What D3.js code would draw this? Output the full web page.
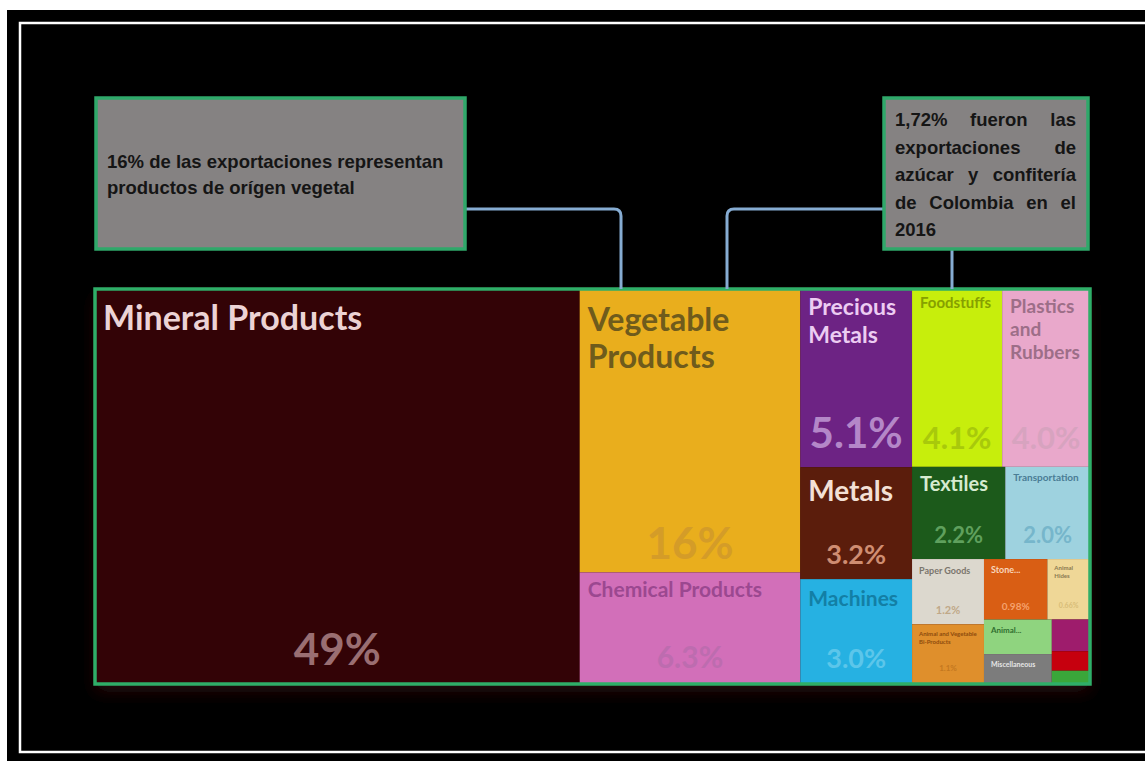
<!DOCTYPE html>
<html>
<head>
<meta charset="UTF-8">
<script src="https://cdn.jsdelivr.net/npm/d3@7"></script>
<style>
  body { margin: 0; background: #fff; }
  svg { display: block; }
</style>
</head>
<body>
<svg id="chart" width="1145" height="761"></svg>
<script>
// Colombia exports 2016, share by section (%)
const sections = ["Mineral Products", "Vegetable Products", "Chemical Products",
  "Precious Metals", "Metals", "Machines", "Foodstuffs", "Plastics and Rubbers",
  "Textiles", "Transportation", "Paper Goods", "Animal and Vegetable Bi-Products",
  "Stone And Glass", "Animal Hides", "Animal Products", "Miscellaneous",
  "Instruments", "Footwear and Headwear", "Wood Products"];
const shares = [49, 16, 6.3, 5.1, 3.2, 3.0, 4.1, 4.0, 2.2, 2.0, 1.2, 1.1, 0.98, 0.66, 0.6, 0.52, 0.31, 0.19, 0.13];
const sectionColors = ["#330306", "#e9ae1d", "#d26fb9", "#6d2384", "#5b1d0c", "#26b1e2",
  "#c7ee0c", "#e9a8cb", "#1c5a1b", "#9ed2df", "#dcd8ce", "#df8f2c", "#d95e14",
  "#efd797", "#8fd47f", "#7c7c7c", "#9e1c6c", "#c6000e", "#3aa63a"];

// how the blocks are stacked (x = side by side, y = on top of each other)
const arrangement = {dir: "x", children: [
  "Mineral Products",
  {dir: "y", children: ["Vegetable Products", "Chemical Products"]},
  {dir: "y", children: ["Precious Metals", "Metals", "Machines"]},
  {dir: "y", children: [
    {dir: "x", children: ["Foodstuffs", "Plastics and Rubbers"]},
    {dir: "x", children: ["Textiles", "Transportation"]},
    {dir: "x", children: [
      {dir: "y", children: ["Paper Goods", "Animal and Vegetable Bi-Products"]},
      {dir: "y", children: [
        {dir: "x", children: ["Stone And Glass", "Animal Hides"]},
        {dir: "x", children: [
          {dir: "y", children: ["Animal Products", "Miscellaneous"]},
          {dir: "y", children: ["Instruments", "Footwear and Headwear", "Wood Products"]}
        ]}
      ]}
    ]}
  ]}
]};

const note1 = ["16% de las exportaciones representan", "productos de orígen vegetal"];
const note2 = ["1,72% fueron las", "exportaciones de", "azúcar y confitería", "de Colombia en el", "2016"];

// label look per block: title size, line height, title offset, value size, colours
const labelStyle = {
  "Mineral Products": {ts: 34, lh: 35, ty: 41, vs: 44, vb: 19, tc: "#ecd3d5", vc: "#9a6e72"},
  "Vegetable Products": {ts: 32, lh: 37, ty: 42, vs: 44, vb: 13, tc: "#6f5b1c", vc: "#d49c28"},
  "Chemical Products": {ts: 21, ty: 25, vs: 30, vb: 16, tc: "#9b4890", vc: "#bd6caf"},
  "Precious Metals": {ts: 23, lh: 28, ty: 26, vs: 42, vb: 19, tc: "#ecccf2", vc: "#b487c8"},
  "Metals": {ts: 28, ty: 34, vs: 27, vb: 15, tc: "#f3e0d6", vc: "#cf8d72"},
  "Machines": {ts: 21, ty: 27, vs: 27, vb: 16, tc: "#137fa5", vc: "#5cc6ea"},
  "Foodstuffs": {ts: 15, ty: 19, vs: 31, vb: 18, tc: "#86a000", vc: "#a8c90b"},
  "Plastics and Rubbers": {ts: 19, lh: 23, ty: 24, vs: 31, vb: 18, tc: "#9d6e88", vc: "#d7a3bf"},
  "Textiles": {ts: 20, ty: 24, vs: 22, vb: 16, tc: "#d6ebd0", vc: "#5fa05d"},
  "Transportation": {ts: 10, ty: 14, vs: 22, vb: 16, tc: "#4a7d95", vc: "#76b6cb"},
  "Paper Goods": {ts: 9, ty: 15, vs: 11, vb: 10, tc: "#7a756c", vc: "#c0a888"},
  "Animal and Vegetable Bi-Products": {ts: 6, lh: 7.5, ty: 12, vs: 8, vb: 13, tc: "#8d4b0c", vc: "#c47820"},
  "Stone And Glass": {ts: 9, ty: 14, vs: 10, vb: 10, tc: "#f8d6bd", vc: "#f5a26e", lines: 1, maxW: 34},
  "Animal Hides": {ts: 6, lh: 8, ty: 11, vs: 7, vb: 12, tc: "#8a7850", vc: "#d8bd78", maxW: 24},
  "Animal Products": {ts: 8, ty: 13, vs: 0, tc: "#2f6f2f", lines: 1, maxW: 36},
  "Miscellaneous": {ts: 7, ty: 13, vs: 0, tc: "#e6e6e6"}
};

const W = 1145, H = 761;
const tm = {x: 95, y: 289, w: 995, h: 395};
const labelFont = "Lato, 'Open Sans', sans-serif";
const noteFont = "'Liberation Sans', Arial, sans-serif";

const svg = d3.select("#chart");

// frame
svg.append("rect").attr("width", W).attr("height", H).attr("fill", "#fff");
svg.append("rect").attr("x", 7).attr("y", 10).attr("width", W).attr("height", H).attr("fill", "#000");
svg.append("rect").attr("x", 20).attr("y", 23).attr("width", W).attr("height", 729)
  .attr("fill", "none").attr("stroke", "#fff").attr("stroke-width", 2.5);

const defs = svg.append("defs");
defs.append("filter").attr("id", "glow").attr("x", "-5%").attr("y", "-5%").attr("width", "110%").attr("height", "120%")
  .append("feDropShadow").attr("dx", 0).attr("dy", 8).attr("stdDeviation", 8)
  .attr("flood-color", "#3a0c14").attr("flood-opacity", 0.6);

// text measuring helper
const probe = svg.append("text").attr("x", -1000).attr("y", -1000);
function measure(str, size, family, weight) {
  probe.attr("font-family", family).attr("font-size", size).attr("font-weight", weight || "bold").text(str);
  return probe.node().getComputedTextLength();
}
function fitLines(name, size, maxW, maxLines) {
  const words = name.split(" ");
  let lines = [], cur = "";
  words.forEach(w => {
    const test = cur ? cur + " " + w : w;
    if (!cur || measure(test, size, labelFont) <= maxW) cur = test;
    else { lines.push(cur); cur = w; }
  });
  lines.push(cur);
  if (lines.length > maxLines) {
    lines = lines.slice(0, maxLines);
    let last = lines[maxLines - 1];
    while (last.length > 1 && measure(last + "...", size, labelFont) > maxW) last = last.slice(0, -1);
    lines[maxLines - 1] = last.trim() + "...";
  }
  return lines;
}

// treemap
const root = d3.hierarchy(arrangement, d => d.children && d.children.map(c => typeof c === "string" ? {name: c} : c))
  .sum(d => d.name ? shares[sections.indexOf(d.name)] : 0);

d3.treemap()
  .size([tm.w, tm.h])
  .tile((node, x0, y0, x1, y1) => (node.data.dir === "y" ? d3.treemapSlice : d3.treemapDice)(node, x0, y0, x1, y1))
  (root);

const color = d3.scaleOrdinal(sections, sectionColors);
const fmt = d3.format(".2r");

const g = svg.append("g").attr("transform", `translate(${tm.x},${tm.y})`);
g.append("rect").attr("width", tm.w).attr("height", tm.h).attr("fill", "#330306").attr("filter", "url(#glow)");

const cells = g.selectAll("g.cell")
  .data(root.leaves())
  .join("g")
  .attr("class", "cell")
  .attr("transform", d => `translate(${d.x0},${d.y0})`);

cells.append("rect")
  .attr("width", d => d.x1 - d.x0)
  .attr("height", d => d.y1 - d.y0)
  .attr("fill", d => color(d.data.name));

cells.each(function (d) {
  const st = labelStyle[d.data.name];
  if (!st) return;
  const cell = d3.select(this);
  const w = d.x1 - d.x0, h = d.y1 - d.y0;
  const lines = fitLines(d.data.name, st.ts, st.maxW || (w - 12), st.lines || 3);
  cell.append("text")
    .attr("font-family", labelFont)
    .attr("font-weight", "bold")
    .attr("font-size", st.ts)
    .attr("fill", st.tc)
    .selectAll("tspan")
    .data(lines)
    .join("tspan")
    .attr("x", st.ts < 10 ? 7 : 8)
    .attr("y", (l, i) => st.ty + i * (st.lh || st.ts * 1.2))
    .text(l => l);
  if (st.vs) {
    cell.append("text")
      .attr("x", w / 2)
      .attr("y", h - st.vb)
      .attr("text-anchor", "middle")
      .attr("font-family", labelFont)
      .attr("font-weight", "bold")
      .attr("font-size", st.vs)
      .attr("fill", st.vc)
      .text(fmt(shares[sections.indexOf(d.data.name)]) + "%");
  }
});

g.append("rect").attr("width", tm.w).attr("height", tm.h)
  .attr("fill", "none").attr("stroke", "#2fae68").attr("stroke-width", 3.5);

// connectors
const lineColor = "#86acd2";
const connectors = [
  "M464,209 H614 Q621,209 621,216 V289",
  "M727,289 V216 Q727,209 734,209 H883",
  "M952,249 V289"
];
svg.selectAll("path.conn").data(connectors).join("path")
  .attr("class", "conn")
  .attr("d", d => d)
  .attr("fill", "none")
  .attr("stroke", lineColor)
  .attr("stroke-width", 3);

// note boxes
function noteBox(x, y, w, h) {
  svg.append("rect").attr("x", x).attr("y", y).attr("width", w).attr("height", h)
    .attr("fill", "#858282").attr("stroke", "#2fa86a").attr("stroke-width", 3.5);
}
noteBox(96, 98, 369, 151);
noteBox(884, 98, 204, 151);

svg.append("text")
  .attr("font-family", noteFont).attr("font-weight", "bold").attr("font-size", 18.5)
  .attr("fill", "#151515")
  .selectAll("tspan").data(note1).join("tspan")
  .attr("x", 107).attr("y", (l, i) => 168 + i * 26)
  .text(l => l);

// justified paragraph in the second box
const jx = 895, jw = 181, jy = 126, jlh = 27.5, jsize = 18.5;
note2.forEach((line, i) => {
  const words = line.split(" ");
  const t = svg.append("text")
    .attr("font-family", noteFont).attr("font-weight", "bold").attr("font-size", jsize)
    .attr("fill", "#151515").attr("y", jy + i * jlh);
  if (i === note2.length - 1 || words.length < 2) {
    t.attr("x", jx).text(line);
    return;
  }
  const widths = words.map(wd => measure(wd, jsize, noteFont));
  const gap = (jw - d3.sum(widths)) / (words.length - 1);
  let x = jx;
  words.forEach((wd, k) => {
    t.append("tspan").attr("x", x).text(wd);
    x += widths[k] + gap;
  });
});
probe.remove();
</script>
</body>
</html>
